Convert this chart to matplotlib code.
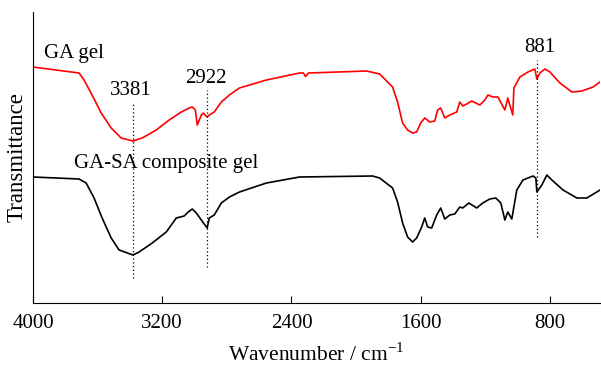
import matplotlib
matplotlib.use("Agg")
import matplotlib.pyplot as plt

plt.rcParams["font.family"] = ["Liberation Serif", "DejaVu Serif"]
plt.rcParams["mathtext.fontset"] = "custom"
plt.rcParams["mathtext.rm"] = "Liberation Serif"

# GA gel (red), wavenumber / arbitrary transmittance
ga_wn = [4000, 3715, 3684, 3634, 3578, 3516, 3454, 3381, 3324, 3237, 3157, 3082, 3033,
         3014, 2995, 2983, 2958, 2946, 2922, 2909, 2878, 2834, 2784, 2722, 2555, 2350,
         2326, 2313, 2295, 1935, 1854, 1774, 1743, 1712, 1681, 1650, 1625, 1600, 1575,
         1544, 1513, 1495, 1476, 1451, 1420, 1377, 1358, 1340, 1315, 1284, 1234, 1203,
         1184, 1153, 1122, 1079, 1061, 1030, 1023, 986, 936, 893, 881, 862, 831, 800,
         738, 664, 602, 533, 490]
ga_t = [236, 230, 223, 208, 190, 175, 165, 162, 165, 173, 183, 191, 195,
        196, 193, 178, 188, 190, 186, 188, 191, 201, 208, 215, 223, 230,
        230, 226.5, 230, 232, 229, 216, 201, 180, 173, 170, 171, 180, 185,
        181, 182, 193, 195, 185, 188, 191, 201, 197, 199, 202, 198, 203,
        208, 206, 206, 193, 205, 188, 215, 226, 231, 234, 224, 230, 234, 231,
        220, 211, 212, 216, 221]

# GA-SA composite gel (black)
sa_wn = [4000, 3715, 3671, 3622, 3572, 3516, 3467, 3381, 3343, 3262, 3175, 3113, 3064,
         3039, 3014, 2989, 2958, 2922, 2909, 2878, 2834, 2784, 2722, 2555, 2350, 1898,
         1854, 1774, 1743, 1712, 1681, 1650, 1625, 1594, 1575, 1557, 1532, 1501, 1476,
         1451, 1420, 1389, 1358, 1340, 1302, 1253, 1216, 1172, 1135, 1104, 1079, 1061,
         1036, 1005, 967, 905, 887, 881, 850, 819, 788, 719, 633, 571, 490]
sa_t = [126, 124, 120, 105, 85, 65, 53, 48, 51, 60, 71, 85, 87,
        91, 94, 90, 83, 75, 85, 88, 100, 106, 111, 120, 126, 127,
        125, 115, 101, 80, 66, 61, 65, 76, 85, 76, 75, 88, 95,
        84, 88, 89, 96, 95, 100, 95, 100, 104, 105, 100, 83, 91,
        84, 113, 123, 127, 125, 111, 118, 128, 123, 113, 105, 105, 113]

peaks = [3381, 2922, 881]
peak_top = [201, 213, 243]
peak_bot = [25, 36, 66]

fig = plt.figure(figsize=(6.01, 3.65), dpi=100)
ax = fig.add_axes([33/601, 62/365, 567/601, 291/365])

ax.plot(ga_wn, ga_t, color="#ff0000", lw=1.2, solid_joinstyle="round")
ax.plot(sa_wn, sa_t, color="black", lw=1.2, solid_joinstyle="round")
for w, t0, t1 in zip(peaks, peak_top, peak_bot):
    ax.plot([w, w], [t1, t0], color="black", lw=0.9, ls=(0, (1, 2)))

fs = 15
ax.text(3932, 250, "GA gel", fontsize=fs, va="center", ha="left")
ax.text(3395, 213, "3381", fontsize=fs, va="center", ha="center")
ax.text(2927, 225, "2922", fontsize=fs, va="center", ha="center")
ax.text(862, 256, "881", fontsize=fs, va="center", ha="center")
ax.text(3746, 140, "GA-SA composite gel", fontsize=fs, va="center", ha="left")

ax.set_xlim(4000, 490)
ax.set_ylim(0, 291)
ax.set_xticks([4000, 3200, 2400, 1600, 800])
ax.set_yticks([])
ax.tick_params(axis="x", direction="in", length=5, labelsize=fs, pad=8)
for s in ["top", "right"]:
    ax.spines[s].set_visible(False)
ax.set_xlabel("Wavenumber / cm$^{\\mathregular{-1}}$", fontsize=15.5, labelpad=7)
ax.set_ylabel("Transmittance", fontsize=16.5, labelpad=4)

fig.savefig("out.png", dpi=100)
